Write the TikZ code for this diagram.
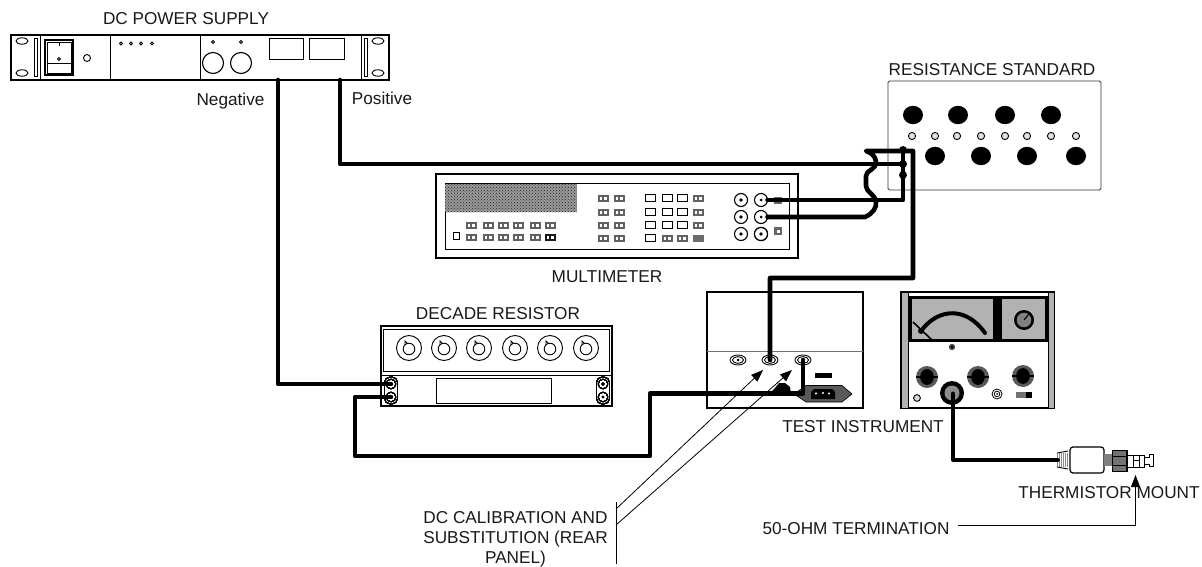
\documentclass[tikz,border=0pt]{standalone}
\usepackage{fontspec}
\setmainfont{Liberation Sans}
\usetikzlibrary{arrows.meta,patterns}
\tikzset{
  x=1pt,y=-1pt,
  lab/.style={inner sep=0pt,outer sep=0pt,font=\fontsize{17.2}{20}\selectfont,text=black!90},
  panelbox/.style={draw=black,line width=1.2pt,fill=white,inner sep=0pt,outer sep=0pt},
  thin1/.style={draw=black,line width=0.9pt},
  wire/.style={draw=black,line width=4.6pt,line join=round,line cap=round},
  junction/.style={circle,fill=black,minimum size=8pt,inner sep=0pt,outer sep=0pt},
  port/.style={circle,draw=black,fill=white,line width=1.1pt,inner sep=0pt,outer sep=0pt},
  leader/.style={draw=black,line width=0.8pt},
  tiparrow/.style={-{Triangle[length=12pt,width=9pt]}},
}
\newcommand{\mybtn}[3]{%
  \fill[#3] (#1-5.5,#2-3.5) rectangle (#1+5.5,#2+3.5);
  \fill[white] (#1-3.5,#2-1.5) rectangle (#1-.7,#2+1.5);
  \fill[white] (#1+.7,#2-1.5) rectangle (#1+3.5,#2+1.5);}
\newcommand{\mywbtn}[2]{\draw[thin1,fill=white] (#1-5,#2-3.3) rectangle (#1+5,#2+3.3);}
\newcommand{\myjack}[2]{\draw[line width=1.1pt,fill=white] (#1,#2) circle (6.5);\fill (#1,#2) circle (1.9);}
\newcommand{\myknob}[2]{\draw[thin1] (#1,#2) circle (12.5);
  \draw[thin1] (#1-4,#2-1) -- (#1-4,#2-7) -- (#1-1,#2-4);
  \draw[thin1,fill=white] (#1,#2+1) circle (5.8);}
\newcommand{\myrj}[2]{\draw[line width=.9pt,fill=white] (#1,#2) ellipse (8 and 5);
  \draw[line width=.9pt] (#1,#2) ellipse (5.5 and 3.4);\fill (#1,#2) circle (1.5);}
\newcommand{\myblack}[3]{\fill[black!65] (#1,#2) circle (#3);\fill[black] (#1,#2) ellipse ({#3*.62} and {#3*.72});\fill[black] (#1-#3,#2-1) rectangle (#1+#3,#2+1);}
\begin{document}
\begin{tikzpicture}
\useasboundingbox (0,0) rectangle (1202,567);
\fill[white] (0,0) rectangle (1202,567);

% ---------- DC power supply
\node[panelbox,minimum width=378pt,minimum height=45pt] (psu) at (200,57.5) {};
\foreach \xx in {40,110,200,361} \draw[thin1] (\xx,35) -- (\xx,80);
\foreach \xx/\yy in {22/41,22/73,378/41,378/73}
  \draw[thin1] (\xx,\yy) ellipse (6 and 3.2);
\draw[thin1] (34,38) rectangle (37,76);
\draw[thin1] (364,38) rectangle (367,76);
\draw[line width=1.1pt] (45,40) rectangle (73,75);
\draw[thin1] (47,42) rectangle (71,73);
\draw[thin1] (47,63) -- (71,63);
\draw[thin1] (59,43) -- (59,46);
\draw[thin1] (59,59) circle (1.5);
\draw[thin1] (87,58) circle (3.5);
\foreach \xx in {121,131,141,152} \draw[thin1] (\xx,43.5) circle (1.6);
\foreach \xx in {213,241} {\draw[thin1] (\xx,42) circle (1.6);
  \draw[line width=1.1pt] (\xx,63) circle (10.5);}
\draw[thin1] (269,38) rectangle (303,59);
\draw[thin1] (309,38) rectangle (344,59);
\node[lab] (psulab) at (186,18.5) {DC POWER SUPPLY};
\node[lab] (neglab) at (230.5,101) {Negative};
\node[lab] (poslab) at (382,98.5) {Positive};
\coordinate (psuneg) at (278,80);
\coordinate (psupos) at (340,80);

% ---------- Resistance standard
\node[draw=black!80,line width=.9pt,fill=white,rounded corners=1.5pt,inner sep=0pt,outer sep=0pt,minimum width=213pt,minimum height=109pt] (rs) at (994.5,135.5) {};
\foreach \xx in {913,958,1005,1051} \fill (\xx,115) ellipse (10 and 9.2);
\foreach \xx in {935,981,1027,1076} \fill (\xx,156) ellipse (10 and 9.2);
\foreach \xx in {912,935,957,981,1005,1027,1051,1076}
  \draw[thin1,fill=black!12] (\xx,136) circle (3.6);
\node[lab] (rslab) at (992,70) {RESISTANCE STANDARD};
\node[junction] (rsa) at (903,150) {};
\node[junction] (rsb) at (903,164) {};
\node[junction] (rsc) at (903,175) {};

% ---------- Multimeter
\node[panelbox,minimum width=362pt,minimum height=84pt] (dmm) at (617,216) {};
\draw[thin1] (445,183) rectangle (789,249);
\fill[black!40] (445,183.5) rectangle (577,212);
\fill[pattern=crosshatch dots,pattern color=black!85] (445,183.5) rectangle (577,212);
\draw[thin1] (456,236) ++(-3,-3.5) rectangle ++(6,7);
\foreach \xx in {471,488,503,518,535,550} \mybtn{\xx}{225}{black!62}
\foreach \xx in {471,488,503,518,535} \mybtn{\xx}{237}{black!62}
\mybtn{550}{237}{black!90}
\foreach \yy in {198,212,225,238} {\mybtn{603}{\yy}{black!62}\mybtn{619}{\yy}{black!62}}
\foreach \yy in {198,212,225} {\mywbtn{650}{\yy}\mywbtn{667}{\yy}\mywbtn{682}{\yy}\mybtn{698}{\yy}{black!62}}
\mywbtn{650}{238}\mybtn{667}{238}{black!62}\mybtn{682}{238}{black!62}
\fill[black!58] (692.5,234.5) rectangle (703.5,241.5);
\foreach \yy in {200,217,234} \myjack{741}{\yy}
\myjack{761}{234}
\fill[black!60] (774,196.5) rectangle (782,204);
\fill[black!60] (774,227) rectangle (782,235);
\fill[white] (776.5,229.5) rectangle (779.5,232.5);
\node[port,minimum size=13pt] (dmma) at (761,200) {};
\node[port,minimum size=13pt] (dmmb) at (761,217) {};
\node[lab] (dmmlab) at (607,277) {MULTIMETER};

% ---------- Decade resistor
\node[panelbox,minimum width=231pt,minimum height=80pt] (dec) at (496.5,366) {};
\draw[thin1] (383.5,329.5) rectangle (609,371);
\draw[thin1] (381,375) -- (612,375);
\draw[thin1] (436,378) rectangle (551,403);
\foreach \xx in {409,444,479,515,550,586} \myknob{\xx}{348}
\foreach \xx in {391,603} {
  \draw[thin1,rounded corners=5.5pt] (\xx-6.5,377) rectangle (\xx+6.5,404);
  \draw[thin1] (\xx,384) circle (4.8);
  \draw[thin1] (\xx,397) circle (4.8);}
\fill (603,384) circle (1.7); \fill (603,397) circle (1.7);
\coordinate (deca) at (391,384);
\coordinate (decb) at (391,397);
\node[lab] (declab) at (498,314) {DECADE RESISTOR};

% ---------- Test instrument (rear)
\node[panelbox,minimum width=156pt,minimum height=116pt] (ti) at (785,350) {};
\draw[draw=black!55,line width=.9pt] (707,351) -- (863,351);
\myrj{738}{360}\myrj{770}{360}\myrj{803}{360}
\coordinate (tia) at (770,360);
\coordinate (tib) at (803,360);
\fill (815,373) rectangle (832,378);
\fill[black!65,draw=black,line width=.6pt] (794,394) -- (806,385.5) -- (842,385.5) -- (852,394) -- (842,402) -- (806,402) -- cycle;
\fill (814,389) -- (832,389) -- (835,392) -- (835,399) -- (811,399) -- (811,392) -- cycle;
\fill[white] (816,393.5) circle (1.1) (823,393) circle (1.1) (829,393.5) circle (1.1);
\fill (769,394) -- (775,388) -- (779,383) -- (785,383) -- (790,387) -- (791,394) -- cycle;
\node[lab] (tilab) at (863,427) {TEST INSTRUMENT};

% ---------- Front-panel meter
\node[panelbox,minimum width=153pt,minimum height=116pt] (mtr) at (977.5,350) {};
\fill[black!30,draw=black,line width=.8pt] (901,292) rectangle (908,408);
\fill[black!30,draw=black,line width=.8pt] (1048,292) rectangle (1054,408);
\fill (908,296) rectangle (1048,342);
\fill[black!30] (912,299) rectangle (993,339);
\fill[black!30] (1002,299) rectangle (1045,339);
\draw[line width=4pt,line cap=round] (921,331) .. controls (938,308) and (966,306) .. (985,333);
\draw[line width=1.6pt] (913,322) -- (933,341);
\fill (921,331) circle (3);
\fill (1024,320) circle (10);
\fill[black!50] (1024,320) circle (7.3);
\draw[line width=1pt] (1024,320) -- (1029,314);
\fill[black!70] (952,347) circle (3.2); \fill (952,347) circle (1.5);
\myblack{927}{377}{11}
\myblack{978}{377}{11}
\myblack{1023}{376}{11}
\draw[thin1,fill=black!15] (917,398) circle (3.4);
\fill (952,393) circle (12);
\fill[black!45] (952,393) circle (7.5);
\node[inner sep=0pt,outer sep=0pt,minimum size=1pt] (mtrj) at (953,393) {};
\draw[line width=.8pt] (997,394) circle (5);
\draw[line width=.8pt] (997,394) circle (2.8);
\fill (997,394) circle (1);
\fill[black!55] (1016,392) rectangle (1026,398);
\fill (1026,392) rectangle (1032,398);

% ---------- Thermistor mount
\fill[black!45] (1057,453) rectangle (1068,467);
\foreach \xx in {1058,1060,1062,1064,1066} \draw[white,line width=.6pt] (\xx,453) -- (\xx,467);
\draw[thin1] (1057,453) -- (1068,451) (1057,467) -- (1068,469);
\node[draw=black,line width=1.2pt,fill=white,rounded corners=3pt,inner sep=0pt,outer sep=0pt,minimum width=34pt,minimum height=26pt] (tm) at (1087,460) {};
\fill[black!50] (1104,454) rectangle (1112,466);
\fill[black!55,draw=black,line width=1.4pt] (1112.5,450.5) rectangle (1127,471.5);
\draw[line width=1pt] (1112.5,456) -- (1127,456) (1112.5,465.5) -- (1127,465.5);
\draw[thin1,fill=white] (1127,455) rectangle (1144,467);
\draw[line width=.7pt] (1133,455) -- (1133,467) (1139,455) -- (1139,467) (1133,460) -- (1139,460);
\draw[thin1,fill=white] (1144,457) -- (1149,457) -- (1149,454) -- (1153,454) -- (1153,466) -- (1149,466) -- (1149,464) -- (1144,464) -- cycle;
\coordinate (tmin) at (1058,460);
\node[lab] (tmlab) at (1109,493) {THERMISTOR MOUNT};

% ---------- Wires
\draw[wire] (psuneg) -- (278,384) -- (deca);
\draw[wire] (decb) -- (355,397) -- (355,456) -- (650,456) -- (650,393.5) -- (803,393.5) -- (tib);
\draw[wire] (psupos) -- (340,164) -- (rsb);
\draw[wire] (dmma) -- (903,200) -- (rsc) -- (rsb) -- (rsa);
\draw[wire] (dmmb) -- (865,217)
   .. controls (872,214) and (877,208) .. (876,202)
   .. controls (875,194) and (866,192) .. (866,186)
   -- (866,176)
   .. controls (866,170) and (876,170) .. (876,162)
   .. controls (876,156) and (870,152) .. (866,151)
   -- (913,151) -- (913,278) -- (770,278) -- (tia);
\draw[wire,line width=4pt] (mtrj) -- (953,460) -- (tmin);
\fill (761,200) circle (1.5); \fill (761,217) circle (1.5);

% ---------- Leaders and callouts
\coordinate (lv1) at (616,502);
\coordinate (lv2) at (616,564);
\coordinate (la) at (616,509);
\coordinate (lb) at (616,525);
\coordinate (ta) at (763,370);
\coordinate (tb) at (792,370);
\draw[leader] (lv1) -- (lv2);
\draw[leader,tiparrow] (la) -- (ta);
\draw[leader,tiparrow] (lb) -- (tb);
\node[lab,align=center] (calib) at (515.5,539.5) {DC CALIBRATION AND\\SUBSTITUTION (REAR\\PANEL)};
\node[lab] (ohm) at (856,529) {50-OHM TERMINATION};
\coordinate (ohmin) at (958,525);
\coordinate (ohmtip) at (1135.5,475);
\draw[leader,line width=.9pt,tiparrow] (ohmin) -- (1135.5,525) -- (ohmtip);
\end{tikzpicture}
\end{document}
